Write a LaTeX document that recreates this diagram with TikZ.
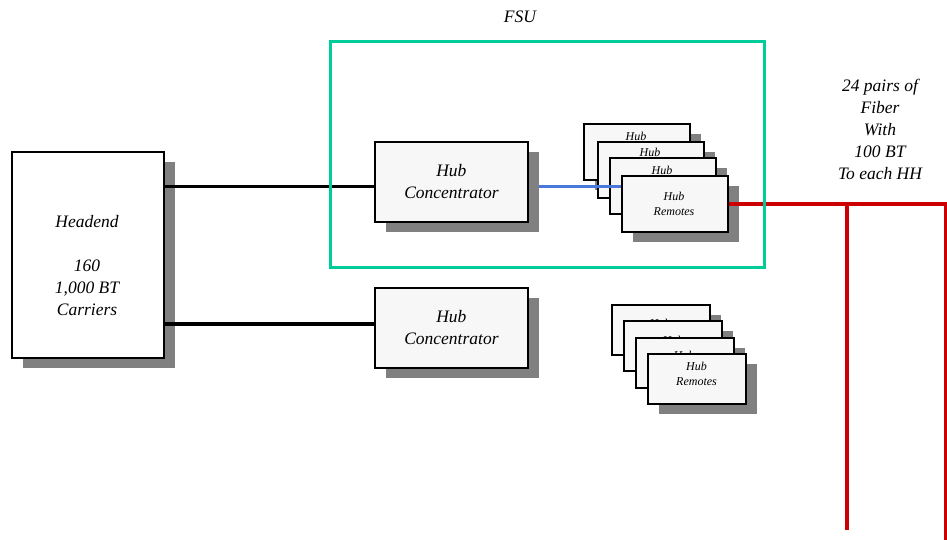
\documentclass[tikz,border=0pt]{standalone}
\usepackage{fontspec}
\setmainfont{Liberation Serif}
\usetikzlibrary{shadows}
\definecolor{boxfill}{RGB}{247,247,247}
\definecolor{shadowgray}{RGB}{128,128,128}
\definecolor{fsugreen}{RGB}{0,204,153}
\definecolor{linkblue}{RGB}{72,120,220}
\definecolor{fiberred}{RGB}{204,0,0}
\tikzset{
  shadowed/.style={drop shadow={shadow xshift=11pt,shadow yshift=-10pt,fill=shadowgray,opacity=1}},
  boxbase/.style={rectangle,draw=black,line width=1.8pt,inner sep=0pt,anchor=north west,shadowed},
  bigbox/.style={boxbase,fill=boxfill,minimum width=153pt,minimum height=80pt,
    align=center,font=\fontsize{17.5}{22}\selectfont\itshape},
  headbox/.style={boxbase,fill=white,minimum width=152pt,minimum height=206pt},
  topcard/.style={boxbase,fill=boxfill,minimum width=106pt,minimum height=56pt},
  botcard/.style={boxbase,fill=boxfill,minimum width=98pt,minimum height=50pt},
  cardtext/.style={align=center,inner sep=0pt,font=\fontsize{12}{14.5}\selectfont\itshape},
  backtext/.style={inner sep=0pt,anchor=base,text depth=0pt,font=\fontsize{12}{14.5}\selectfont\itshape},
  bigtext/.style={align=center,inner sep=0pt,font=\fontsize{17.5}{22}\selectfont\itshape},
  wire/.style={line width=3.2pt,black},
  fiber/.style={line width=3.5pt,fiberred},
}
\begin{document}
\begin{tikzpicture}[x=1pt,y=-1pt]
\useasboundingbox (0,0) rectangle (947,540);

% FSU label
\node[bigtext] (fsulabel) at (520,17) {FSU};

% Headend
\node[headbox] (he) at (11,151) {};
\node[bigtext] (hetext) at (87,266) {Headend\\[22pt]160\\1,000 BT\\Carriers};

% Hub concentrators
\node[bigbox] (hc1) at (374,141) {Hub\\Concentrator};
\node[bigbox] (hc2) at (374,287) {Hub\\Concentrator};

% connectors headend -> concentrators
\draw[wire] ([yshift=-5pt]hc1.west -| he.east) -- ([yshift=-5pt]hc1.west);
\draw[wire] ([yshift=4pt]hc2.west -| he.east) -- ([yshift=4pt]hc2.west);

% top remote stack
\node[topcard] (r1) at (583,123) {};
\node[backtext] (r1t) at (636,141) {Hub};
\node[topcard] (r2) at (597,141) {};
\node[backtext] (r2t) at (650,157) {Hub};
\node[topcard] (r3) at (609,157) {};
\node[backtext] (r3t) at (662,175) {Hub};
\draw[line width=3pt,linkblue] ([xshift=10pt,yshift=-5pt]hc1.east) coordinate (bl) -- (bl -| r3.east);
\node[topcard] (r4) at (621,175) {};
\node[cardtext] (r4t) at (674,204) {Hub\\Remotes};

% bottom remote stack
\node[botcard] (b1) at (611,304) {};
\node[backtext] (b1t) at (660,327) {Hub};
\node[botcard] (b2) at (623,320) {};
\node[backtext] (b2t) at (673,344) {Hub};
\node[botcard] (b3) at (635,337) {};
\node[backtext] (b3t) at (684,359) {Hub};
\node[botcard] (b4) at (647,353) {};
\node[cardtext] (b4t) at (696.5,374) {Hub\\Remotes};

% fiber lines
\coordinate (jlend) at (847,530);
\coordinate (jrend) at (945.5,540);
\draw[fiber] (r4.east) -- (r4.east -| jrend) -- (jrend);
\draw[fiber] (r4.east -| jlend) -- (jlend);

% FSU frame
\node[draw=fsugreen,line width=3pt,rectangle,inner sep=0pt,anchor=north west,
  minimum width=434pt,minimum height=226pt] (fsu) at (329,40) {};

% fiber label
\node[bigtext] (fiberlabel) at (880,129) {24 pairs of\\Fiber\\With\\100 BT\\To each HH};
\end{tikzpicture}
\end{document}
